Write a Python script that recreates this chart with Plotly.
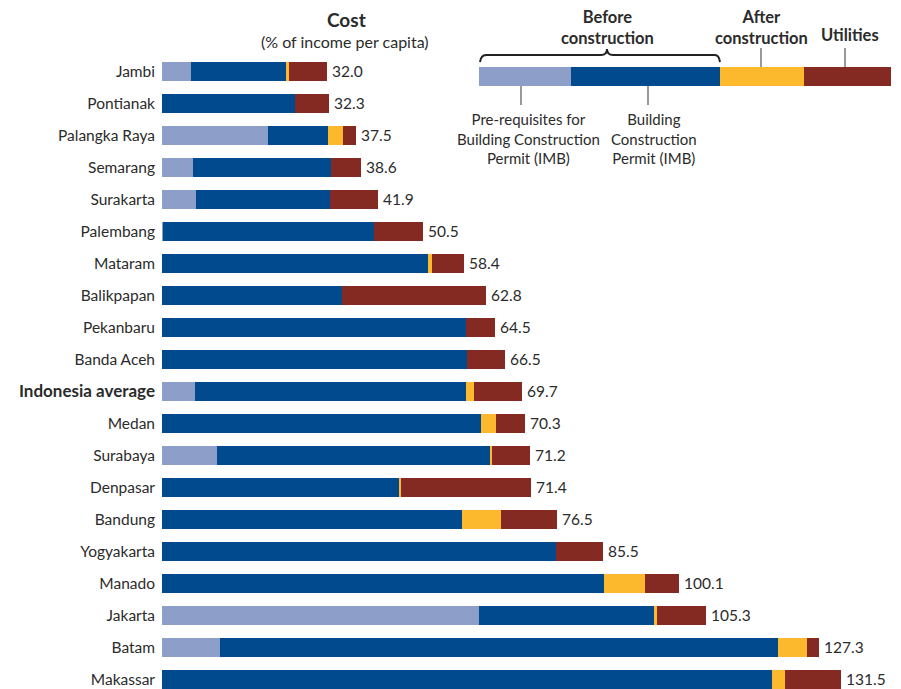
import plotly.graph_objects as go

cities = ["Jambi", "Pontianak", "Palangka Raya", "Semarang", "Surakarta", "Palembang",
          "Mataram", "Balikpapan", "Pekanbaru", "Banda Aceh", "Indonesia average", "Medan",
          "Surabaya", "Denpasar", "Bandung", "Yogyakarta", "Manado", "Jakarta", "Batam", "Makassar"]
prereq   = [5.6, 0.0, 20.5, 6.0, 6.6, 0.2, 0.0, 0.0, 0.0, 0.0, 6.4, 0.0, 10.7, 0.0, 0.0, 0.0, 0.0, 61.4, 11.2, 0.0]
permit   = [18.4, 25.8, 11.6, 26.7, 25.9, 40.8, 51.6, 34.9, 58.8, 59.1, 52.5, 61.8, 53.0, 45.9, 58.1, 76.4, 85.7, 33.9, 108.1, 118.2]
after    = [0.6, 0.0, 3.0, 0.0, 0.0, 0.0, 0.7, 0.0, 0.0, 0.0, 1.5, 2.9, 0.2, 0.4, 7.6, 0.0, 7.8, 0.5, 5.6, 2.4]
utilities= [7.4, 6.5, 2.4, 5.9, 9.4, 9.5, 6.1, 27.9, 5.7, 7.4, 9.3, 5.6, 7.3, 25.1, 10.8, 9.1, 6.6, 9.5, 2.4, 10.9]
totals   = [32.0, 32.3, 37.5, 38.6, 41.9, 50.5, 58.4, 62.8, 64.5, 66.5, 69.7, 70.3, 71.2, 71.4, 76.5, 85.5, 100.1, 105.3, 127.3, 131.5]

C_PRE, C_PER, C_AFT, C_UTI = "#8D9FC9", "#004A8D", "#FDB92E", "#852A22"
FONT = "Lato"
TXT = "#2b2b2b"

OFF = 8  # page body margin in the browser
W, H = 901 - OFF, 689 - OFF
L, R, T, B = 162 - OFF, 6, 48, 0
PW, PH = W - L - R, H - T - B
PX_PER_UNIT = 5.163
ROW = 32.0

def px(x):  # reference-screen pixel -> paper x
    return (x - OFF - L) / PW

def py(y):  # reference-screen pixel -> paper y
    return (H - B - (y - OFF)) / PH

fig = go.Figure()
for name, vals, col in [("Pre-requisites", prereq, C_PRE), ("Building permit", permit, C_PER),
                        ("After construction", after, C_AFT), ("Utilities", utilities, C_UTI)]:
    fig.add_trace(go.Bar(y=cities, x=vals, orientation="h", marker=dict(color=col, line=dict(width=0)),
                         name=name, width=0.6, hoverinfo="x+y"))

ticktext = [f'<span style="font-size:17px"><b>{c}</b></span>' if c == "Indonesia average" else c
            for c in cities]

shapes = []
for x0, x1, col in [(479, 571, C_PRE), (571, 720, C_PER), (720, 804, C_AFT), (804, 891, C_UTI)]:
    shapes.append(dict(type="rect", xref="paper", yref="paper", x0=px(x0), x1=px(x1),
                       y0=py(86), y1=py(67), fillcolor=col, line=dict(width=0)))
for x, y0, y1 in [(761, 48, 67), (845, 48, 67), (521, 86, 105), (648, 86, 105)]:
    shapes.append(dict(type="line", xref="paper", yref="paper", x0=px(x), x1=px(x), y0=py(y0), y1=py(y1),
                       line=dict(color="#555555", width=1.2)))
pts = [(480, 62), (481, 55), (486, 55), (601, 55), (607, 55), (607, 49), (607, 55), (613, 55),
       (715, 55), (719, 55), (720, 62)]
def P(p):
    return f"{px(p[0]):.5f},{py(p[1]):.5f}"
path = (f"M{P(pts[0])} Q{P(pts[1])} {P(pts[2])} L{P(pts[3])} Q{P(pts[4])} {P(pts[5])} "
        f"Q{P(pts[6])} {P(pts[7])} L{P(pts[8])} Q{P(pts[9])} {P(pts[10])}")
shapes.append(dict(type="path", xref="paper", yref="paper", path=path,
                   line=dict(color="#222222", width=2)))

annotations = []
def ann(text, x, y, size=15, bold=False):
    annotations.append(dict(text=f"<b>{text}</b>" if bold else text, xref="paper", yref="paper",
                            x=px(x), y=py(y), xanchor="center", yanchor="middle", showarrow=False,
                            align="center", font=dict(family=FONT, size=size, color=TXT)))

ann("Cost", 346, 19.5, size=19, bold=True)
ann("(% of income per capita)", 345, 42, size=16)
ann("Before<br>construction", 607, 27, size=16.5, bold=True)
ann("After<br>construction", 761, 27, size=16.5, bold=True)
ann("Utilities", 850, 35, size=16.5, bold=True)
ann("Pre-requisites for<br>Building Construction<br>Permit (IMB)", 528, 138, size=15)
ann("Building<br>Construction<br>Permit (IMB)", 654, 138, size=15)

# value labels at bar ends
for c, v in zip(cities, totals):
    annotations.append(dict(text=f"{v:.1f}", x=v, y=c, xref="x", yref="y", xanchor="left",
                            yanchor="middle", xshift=3, showarrow=False,
                            font=dict(family=FONT, size=15.5, color=TXT)))

fig.update_layout(
    width=W, height=H, margin=dict(l=L, r=R, t=T, b=B),
    barmode="stack", showlegend=False,
    plot_bgcolor="white", paper_bgcolor="white",
    font=dict(family=FONT, size=15, color=TXT),
    xaxis=dict(range=[0, PW / PX_PER_UNIT], visible=False, showgrid=False, zeroline=False),
    yaxis=dict(type="category", categoryorder="array", categoryarray=cities,
               tickmode="array", tickvals=cities, ticktext=ticktext,
               range=[-0.484 + PH / ROW, -0.484], showgrid=False, zeroline=False, showline=False,
               ticks="", ticklabelstandoff=6, tickfont=dict(family=FONT, size=15.5, color=TXT)),
    shapes=shapes, annotations=annotations,
)

fig.write_html("out.html")
